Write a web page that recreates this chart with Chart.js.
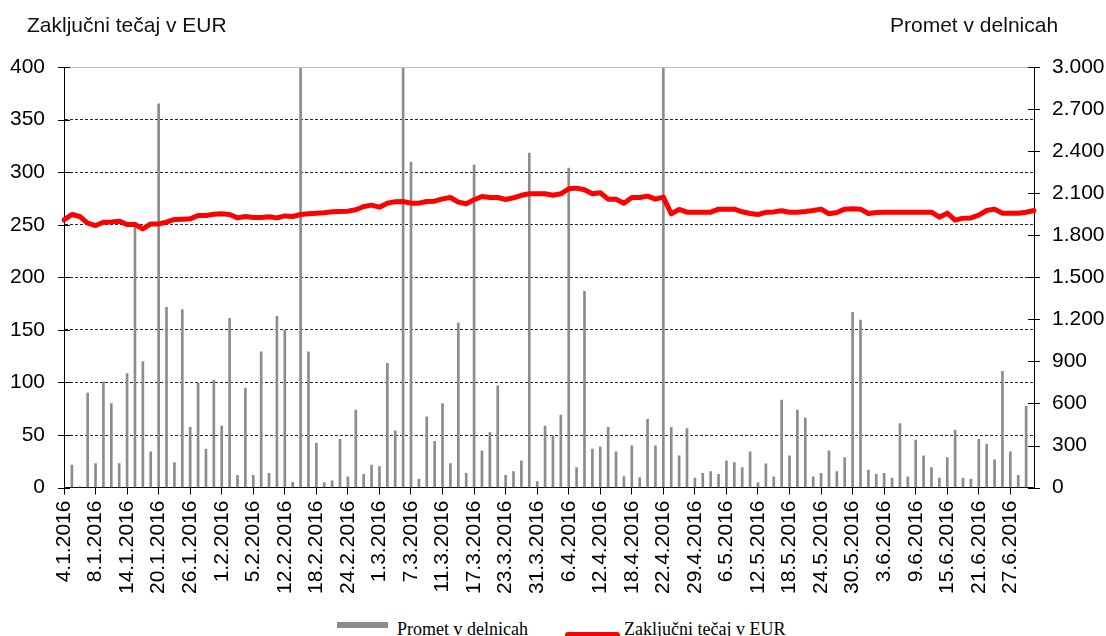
<!DOCTYPE html>
<html>
<head>
<meta charset="utf-8">
<script src="https://cdn.jsdelivr.net/npm/chart.js@4/dist/chart.umd.min.js"></script>
<style>
  html, body { margin: 0; padding: 0; background: #fff; width: 1106px; height: 636px; overflow: hidden; }
  #wrap { position: relative; width: 1106px; height: 636px; }
  canvas { position: absolute; left: 0; top: 0; }
  .title { position: absolute; top: 14px; font: 21px "Liberation Sans", Arial, sans-serif; line-height: 21px; color: #111; white-space: nowrap; }
  .leg { position: absolute; font: 18px "Liberation Serif", "Times New Roman", serif; line-height: 18px; color: #000; white-space: nowrap; }
  .swatch { position: absolute; }
</style>
</head>
<body>
<div id="wrap">
  <canvas id="chart" width="1106" height="600"></canvas>
  <div class="title" style="left:27px">Zaključni tečaj v EUR</div>
  <div class="title" style="left:890px">Promet v delnicah</div>
  <div class="swatch" style="left:337px;top:622px;width:51px;height:6px;background:#8c8c8c"></div>
  <div class="leg" style="left:397px;top:620px">Promet v delnicah</div>
  <div class="swatch" style="left:565px;top:632px;width:55px;height:6px;background:#ff0000;border-radius:3px"></div>
  <div class="leg" style="left:624px;top:620px">Zaključni tečaj v EUR</div>
</div>
<script>
// trading days, Ljubljana stock exchange, 1H 2016
var dates = [
  "4.1.2016","5.1.2016","6.1.2016","7.1.2016","8.1.2016","11.1.2016","12.1.2016","13.1.2016","14.1.2016","15.1.2016",
  "18.1.2016","19.1.2016","20.1.2016","21.1.2016","22.1.2016","25.1.2016","26.1.2016","27.1.2016","28.1.2016","29.1.2016",
  "1.2.2016","2.2.2016","3.2.2016","4.2.2016","5.2.2016","9.2.2016","10.2.2016","11.2.2016","12.2.2016","15.2.2016",
  "16.2.2016","17.2.2016","18.2.2016","19.2.2016","22.2.2016","23.2.2016","24.2.2016","25.2.2016","26.2.2016","29.2.2016",
  "1.3.2016","2.3.2016","3.3.2016","4.3.2016","7.3.2016","8.3.2016","9.3.2016","10.3.2016","11.3.2016","14.3.2016",
  "15.3.2016","16.3.2016","17.3.2016","18.3.2016","21.3.2016","22.3.2016","23.3.2016","24.3.2016","29.3.2016","30.3.2016",
  "31.3.2016","1.4.2016","4.4.2016","5.4.2016","6.4.2016","7.4.2016","8.4.2016","11.4.2016","12.4.2016","13.4.2016",
  "14.4.2016","15.4.2016","18.4.2016","19.4.2016","20.4.2016","21.4.2016","22.4.2016","25.4.2016","26.4.2016","28.4.2016",
  "29.4.2016","3.5.2016","4.5.2016","5.5.2016","6.5.2016","9.5.2016","10.5.2016","11.5.2016","12.5.2016","13.5.2016",
  "16.5.2016","17.5.2016","18.5.2016","19.5.2016","20.5.2016","23.5.2016","24.5.2016","25.5.2016","26.5.2016","27.5.2016",
  "30.5.2016","31.5.2016","1.6.2016","2.6.2016","3.6.2016","6.6.2016","7.6.2016","8.6.2016","9.6.2016","10.6.2016",
  "13.6.2016","14.6.2016","15.6.2016","16.6.2016","17.6.2016","20.6.2016","21.6.2016","22.6.2016","23.6.2016","24.6.2016",
  "27.6.2016","28.6.2016","29.6.2016","30.6.2016"
];

// Promet v delnicah (right axis)
var volume = [
  0, 160, 5, 674, 171, 755, 600, 171, 814, 1893,
  898, 255, 2738, 1286, 179, 1269, 429, 743, 274, 767,
  438, 1207, 88, 710, 88, 969, 102, 1221, 1124, 38,
  3600, 969, 317, 36, 48, 345, 76, 552, 95, 160,
  150, 886, 405, 3600, 2321, 60, 505, 329, 600, 171,
  1174, 102, 2302, 262, 393, 726, 88, 114, 190, 2386,
  43, 438, 369, 517, 2279, 143, 1400, 274, 290, 429,
  255, 79, 298, 71, 486, 298, 3600, 429, 226, 421,
  67, 102, 114, 95, 190, 179, 143, 255, 36, 169,
  76, 624, 226, 552, 495, 76, 102, 262, 114, 214,
  1250, 1195, 124, 95, 102, 67, 457, 76, 338, 226,
  143, 67, 214, 410, 67, 60, 345, 310, 198, 829,
  255, 88, 579, 0
];

// Zaključni tečaj v EUR (left axis)
var close = [
  254.6, 259.7, 257.8, 251.5, 249.2, 252.4, 252.7, 253.4, 250.2, 250.2,
  246.0, 250.8, 250.8, 252.4, 255.0, 255.3, 255.6, 258.8, 258.8, 260.0,
  260.4, 259.7, 256.5, 257.8, 256.9, 256.9, 257.5, 256.5, 258.4, 257.8,
  259.7, 260.4, 261.0, 261.3, 262.3, 262.6, 262.9, 264.2, 267.3, 268.6,
  266.7, 270.5, 271.8, 272.1, 270.5, 270.5, 272.1, 272.4, 274.6, 275.9,
  271.5, 269.9, 273.7, 276.9, 275.9, 275.9, 274.0, 275.6, 278.0, 279.5,
  279.4, 279.4, 278.1, 279.4, 284.2, 284.8, 283.2, 279.4, 280.4, 274.3,
  274.3, 270.5, 275.9, 275.9, 277.2, 274.3, 276.2, 260.4, 264.5, 261.9,
  261.9, 261.9, 261.9, 264.8, 264.8, 264.8, 262.3, 260.7, 259.7, 261.8,
  262.2, 263.2, 261.9, 261.9, 262.6, 263.5, 264.8, 260.4, 261.6, 264.8,
  265.1, 264.8, 260.7, 261.6, 261.9, 261.9, 261.9, 261.9, 261.9, 261.9,
  261.9, 257.2, 261.0, 254.3, 256.2, 256.5, 259.1, 263.5, 264.8, 261.0,
  261.0, 261.0, 261.9, 263.5
];

var leftTicks = [0, 50, 100, 150, 200, 250, 300, 350, 400];
var rightTicks = [0, 300, 600, 900, 1200, 1500, 1800, 2100, 2400, 2700, 3000];

var tickFont = { family: "'Liberation Sans', Arial, sans-serif", size: 21 };

var fmtThousands = (v) => String(v).replace(/\B(?=(\d{3})+(?!\d))/g, ".");

// y tick marks crossing the axes + grey top frame line
var axisDeco = {
  id: "axisDeco",
  afterDraw: (chart) => {
    var ctx = chart.ctx;
    var a = chart.chartArea;
    ctx.save();
    ctx.strokeStyle = "#bfbfbf";
    ctx.lineWidth = 1;
    ctx.beginPath();
    ctx.moveTo(a.left, Math.round(a.top) + 0.5);
    ctx.lineTo(a.right, Math.round(a.top) + 0.5);
    ctx.stroke();
    ctx.strokeStyle = "#000";
    ["y", "y1"].forEach((id) => {
      var s = chart.scales[id];
      var x = id == "y" ? s.right : s.left;
      s.ticks.forEach((t) => {
        var py = Math.round(s.getPixelForValue(t.value)) + 0.5;
        ctx.beginPath();
        ctx.moveTo(x - 6, py);
        ctx.lineTo(x + 6, py);
        ctx.stroke();
      });
    });
    ctx.restore();
  }
};

var ctx = document.getElementById("chart").getContext("2d");
var chart = new Chart(ctx, {
  type: "bar",
  data: {
    labels: dates,
    datasets: [
      {
        type: "line",
        label: "Zaključni tečaj v EUR",
        data: close,
        yAxisID: "y",
        borderColor: "#ff0000",
        backgroundColor: "#ff0000",
        borderWidth: 5,
        pointRadius: 0,
        tension: 0,
        borderJoinStyle: "round",
        borderCapStyle: "round",
        order: 0
      },
      {
        type: "bar",
        label: "Promet v delnicah",
        data: volume,
        yAxisID: "y1",
        backgroundColor: "#8c8c8c",
        barThickness: 2,
        order: 1
      }
    ]
  },
  options: {
    responsive: false,
    animation: false,
    layout: { padding: { left: 10, right: 1, top: 67, bottom: 0 } },
    plugins: {
      legend: { display: false },
      tooltip: { enabled: false }
    },
    scales: {
      x: {
        offset: false,
        afterFit: (s) => { s.paddingLeft = 0; s.paddingRight = 0; },
        grid: {
          offset: false,
          drawOnChartArea: false,
          drawTicks: true,
          tickLength: 7,
          color: (c) => (c.index % 4 == 0 ? "#000" : "rgba(0,0,0,0)")
        },
        border: { display: true, color: "#000", width: 1 },
        ticks: {
          autoSkip: false,
          minRotation: 90,
          maxRotation: 90,
          padding: 6,
          color: "#000",
          font: tickFont,
          callback: (v, i) => (i % 4 == 0 ? dates[i] : "")
        }
      },
      y: {
        position: "left",
        min: 0,
        max: 400,
        afterBuildTicks: (s) => { s.ticks = leftTicks.map((v) => ({ value: v })); },
        afterFit: (s) => { s.width = 54; },
        grid: {
          drawTicks: true,
          tickLength: 6,
          tickColor: "rgba(0,0,0,0)",
          lineWidth: 1,
          color: (c) => (c.tick && (c.tick.value == 0 || c.tick.value == 400) ? "rgba(0,0,0,0)" : "#222")
        },
        border: { display: true, color: "#000", width: 1, dash: [3, 2] },
        ticks: { padding: 13, color: "#000", font: tickFont }
      },
      y1: {
        position: "right",
        min: 0,
        max: 3000,
        afterBuildTicks: (s) => { s.ticks = rightTicks.map((v) => ({ value: v })); },
        afterFit: (s) => { s.width = 71; },
        grid: { drawOnChartArea: false, drawTicks: true, tickLength: 6, tickColor: "rgba(0,0,0,0)" },
        border: { display: true, color: "#000", width: 1 },
        ticks: { padding: 12, color: "#000", font: tickFont, callback: (v) => fmtThousands(v) }
      }
    }
  },
  plugins: [axisDeco]
});
</script>
</body>
</html>
